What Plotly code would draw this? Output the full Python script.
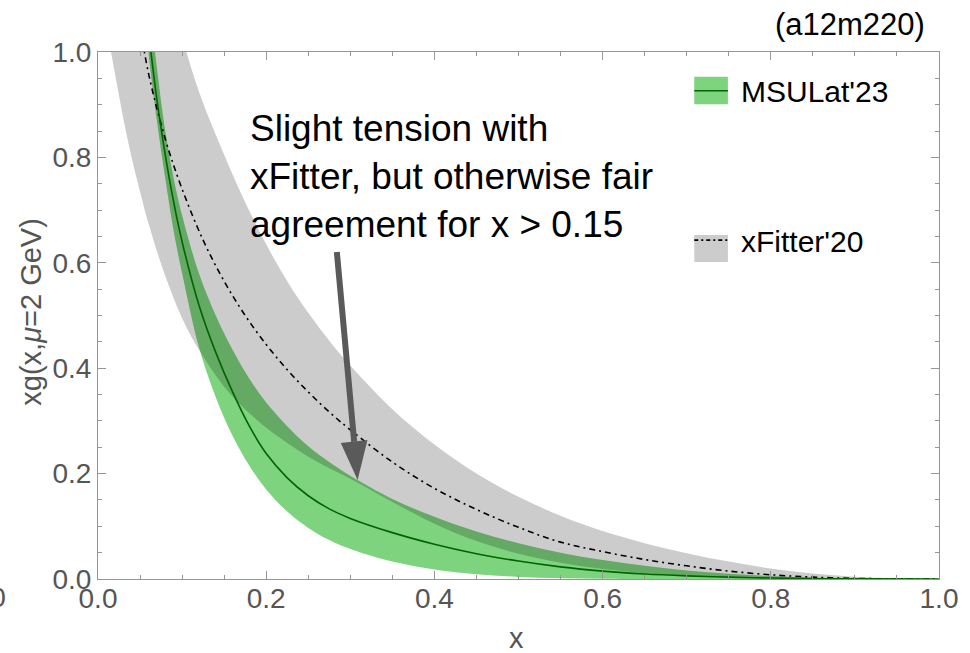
import plotly.graph_objects as go

# ---------------- data ----------------
# MSULat'23 band (green)
msu_up_x = [0.065, 0.07, 0.08, 0.09, 0.10, 0.12, 0.14, 0.16, 0.18, 0.20, 0.225, 0.25, 0.275, 0.30,
            0.35, 0.40, 0.45, 0.50, 0.55, 0.60, 0.65, 0.70, 0.75, 0.80, 0.85, 0.90, 1.00]
msu_up_y = [1.04, 0.97, 0.85, 0.76, 0.69, 0.58, 0.50, 0.435, 0.38, 0.335, 0.29, 0.252, 0.222, 0.196,
            0.152, 0.118, 0.090, 0.068, 0.050, 0.036, 0.025, 0.016, 0.010, 0.0055, 0.0025, 0.0008, 0.0]
msu_lo_x = [0.058, 0.06, 0.07, 0.08, 0.09, 0.10, 0.12, 0.14, 0.16, 0.18, 0.20, 0.225, 0.25, 0.275,
            0.30, 0.35, 0.40, 0.45, 0.50, 0.55, 0.60, 0.65, 1.00]
msu_lo_y = [1.04, 1.0, 0.87, 0.76, 0.66, 0.58, 0.44, 0.345, 0.272, 0.215, 0.17, 0.128, 0.097, 0.074,
            0.057, 0.033, 0.018, 0.009, 0.004, 0.0015, 0.0004, 0.0, 0.0]
msu_c_x = [0.06, 0.07, 0.08, 0.09, 0.10, 0.12, 0.14, 0.16, 0.18, 0.20, 0.225, 0.25, 0.275, 0.30,
           0.35, 0.40, 0.45, 0.50, 0.55, 0.60, 0.65, 0.70, 0.75, 0.80, 0.85, 0.90, 1.00]
msu_c_y = [1.04, 0.91, 0.805, 0.715, 0.64, 0.52, 0.43, 0.355, 0.29, 0.238, 0.192, 0.158, 0.133, 0.115,
           0.088, 0.066, 0.048, 0.034, 0.023, 0.015, 0.0095, 0.006, 0.0035, 0.0018, 0.0008, 0.0002, 0.0]

# xFitter'20 band (gray)
xf_up_x = [0.09, 0.10, 0.12, 0.15, 0.175, 0.20, 0.225, 0.25, 0.275, 0.30, 0.35, 0.40, 0.45, 0.50,
           0.55, 0.60, 0.65, 0.70, 0.75, 0.80, 0.85, 0.90, 0.95, 1.00]
xf_up_y = [1.10, 1.03, 0.925, 0.805, 0.715, 0.635, 0.565, 0.505, 0.452, 0.405, 0.322, 0.255, 0.200,
           0.156, 0.120, 0.091, 0.068, 0.049, 0.033, 0.020, 0.0105, 0.0045, 0.0012, 0.0]
xf_lo_x = [0.01, 0.02, 0.03, 0.04, 0.05, 0.06, 0.08, 0.10, 0.12, 0.15, 0.175, 0.20, 0.225, 0.25,
           0.275, 0.30, 0.35, 0.40, 0.45, 0.50, 0.55, 0.60, 0.65, 0.70, 0.75, 0.80, 0.85, 0.90, 1.00]
xf_lo_y = [1.05, 0.96, 0.875, 0.80, 0.735, 0.675, 0.575, 0.495, 0.435, 0.365, 0.322, 0.287, 0.258,
           0.232, 0.21, 0.19, 0.146, 0.105, 0.072, 0.048, 0.031, 0.019, 0.011, 0.0062, 0.003, 0.0012,
           0.0003, 0.0, 0.0]
xf_c_x = [0.05, 0.06, 0.08, 0.10, 0.125, 0.15, 0.175, 0.20, 0.225, 0.25, 0.275, 0.30, 0.35, 0.40,
          0.45, 0.50, 0.55, 0.60, 0.65, 0.70, 0.75, 0.80, 0.85, 0.90, 0.95, 1.00]
xf_c_y = [1.05, 0.96, 0.835, 0.74, 0.643, 0.565, 0.50, 0.445, 0.397, 0.355, 0.317, 0.283, 0.222,
          0.172, 0.132, 0.098, 0.070, 0.052, 0.037, 0.025, 0.015, 0.008, 0.0036, 0.0012, 0.0002, 0.0]

tick_vals = [0.0, 0.2, 0.4, 0.6, 0.8, 1.0]
tick_text = ["0.0", "0.2", "0.4", "0.6", "0.8", "1.0"]

# ---------------- figure ----------------
FONT = "Liberation Sans, Arial, sans-serif"
GREEN = "rgb(126,212,126)"
GRAYFILL = "rgba(0,0,0,0.2)"
AXC = "rgb(150,150,150)"
LBL = "rgb(85,85,85)"
SM = 1.0

fig = go.Figure()

fig.add_trace(go.Scatter(
    x=msu_up_x + msu_lo_x[::-1], y=msu_up_y + msu_lo_y[::-1],
    fill="toself", fillcolor=GREEN, mode="lines", line=dict(width=0, shape="spline", smoothing=SM),
    hoverinfo="skip", showlegend=False))
fig.add_trace(go.Scatter(
    x=xf_up_x + xf_lo_x[::-1], y=xf_up_y + xf_lo_y[::-1],
    fill="toself", fillcolor=GRAYFILL, mode="lines", line=dict(width=0, shape="spline", smoothing=SM),
    hoverinfo="skip", showlegend=False))
fig.add_trace(go.Scatter(
    x=xf_c_x, y=xf_c_y, mode="lines",
    line=dict(color="black", width=1.6, dash="6px,4px,2px,4px", shape="spline", smoothing=SM),
    showlegend=False))
fig.add_trace(go.Scatter(
    x=msu_c_x, y=msu_c_y, mode="lines",
    line=dict(color="rgb(0,100,0)", width=1.6, shape="spline", smoothing=SM),
    showlegend=False))

axis_common = dict(
    range=[0, 1], tickmode="array", tickvals=tick_vals, ticktext=tick_text,
    showline=True, linecolor=AXC, linewidth=1, mirror="allticks",
    ticks="inside", ticklen=8, tickcolor=AXC, tickwidth=1,
    minor=dict(dtick=0.05, ticks="inside", ticklen=4, tickcolor=AXC, tickwidth=1, showgrid=False),
    showgrid=False, zeroline=False,
    tickfont=dict(family=FONT, size=28, color=LBL),
)
fig.update_xaxes(**axis_common, ticklabelstandoff=-6)
fig.update_yaxes(**axis_common)

# legend drawn as swatches + labels, plus the arrow
shapes = [
    dict(type="rect", xref="paper", yref="paper", x0=0.709, x1=0.749, y0=0.901, y1=0.953,
         fillcolor=GREEN, line=dict(width=0)),
    dict(type="line", xref="paper", yref="paper", x0=0.709, x1=0.749, y0=0.9266, y1=0.9266,
         line=dict(color="rgb(0,100,0)", width=1.6)),
    dict(type="rect", xref="paper", yref="paper", x0=0.709, x1=0.749, y0=0.6015, y1=0.6528,
         fillcolor=GRAYFILL, line=dict(width=0)),
    dict(type="line", xref="paper", yref="paper", x0=0.709, x1=0.749, y0=0.643, y1=0.643,
         line=dict(color="black", width=1.6, dash="4px,3px,2px,3px")),
    dict(type="line", xref="x", yref="y", x0=0.2840, y0=0.6205, x1=0.3046, y1=0.2605,
         line=dict(color="rgb(90,90,90)", width=6)),
    dict(type="path", xref="x", yref="y",
         path="M 0.2887 0.2581 L 0.3204 0.2638 L 0.3087 0.1879 Z",
         fillcolor="rgb(90,90,90)", line=dict(width=0)),
]

annotations = [
    dict(text="MSULat'23", xref="paper", yref="paper", x=0.7617, y=0.925, xanchor="left",
         yanchor="middle", showarrow=False, font=dict(family=FONT, size=30, color="black")),
    dict(text="xFitter'20", xref="paper", yref="paper", x=0.7617, y=0.6395, xanchor="left",
         yanchor="middle", showarrow=False, font=dict(family=FONT, size=30, color="black")),
    dict(text="(a12m220)", xref="paper", yref="paper", x=0.894, y=1.052, xanchor="center",
         yanchor="middle", showarrow=False, font=dict(family=FONT, size=31, color="black")),
    dict(text="Slight tension with<br>xFitter, but otherwise fair<br>agreement for x > 0.15",
         xref="paper", yref="paper", x=0.1784, y=0.763, xanchor="left", yanchor="middle",
         align="left", showarrow=False, font=dict(family=FONT, size=37, color="black")),
    dict(text="xg(x,<i>μ</i>=2 GeV)", xref="paper", yref="paper", x=-0.0798, y=0.507,
         xanchor="center", yanchor="middle", textangle=-90, showarrow=False,
         font=dict(family=FONT, size=29, color=LBL)),
    dict(text="x", xref="paper", yref="paper", x=0.4977, y=-0.112, xanchor="center",
         yanchor="middle", showarrow=False, font=dict(family=FONT, size=29, color=LBL)),
    dict(text="1.0", xref="paper", yref="paper", x=-0.1068, y=-0.036, xanchor="right",
         yanchor="middle", showarrow=False, font=dict(family=FONT, size=28, color=LBL)),
]

fig.update_layout(
    width=970, height=653,
    margin=dict(l=98, r=20, t=52, b=74),
    paper_bgcolor="white", plot_bgcolor="white",
    showlegend=False,
    shapes=shapes, annotations=annotations,
    font=dict(family=FONT),
)

fig.write_html("out.html")
